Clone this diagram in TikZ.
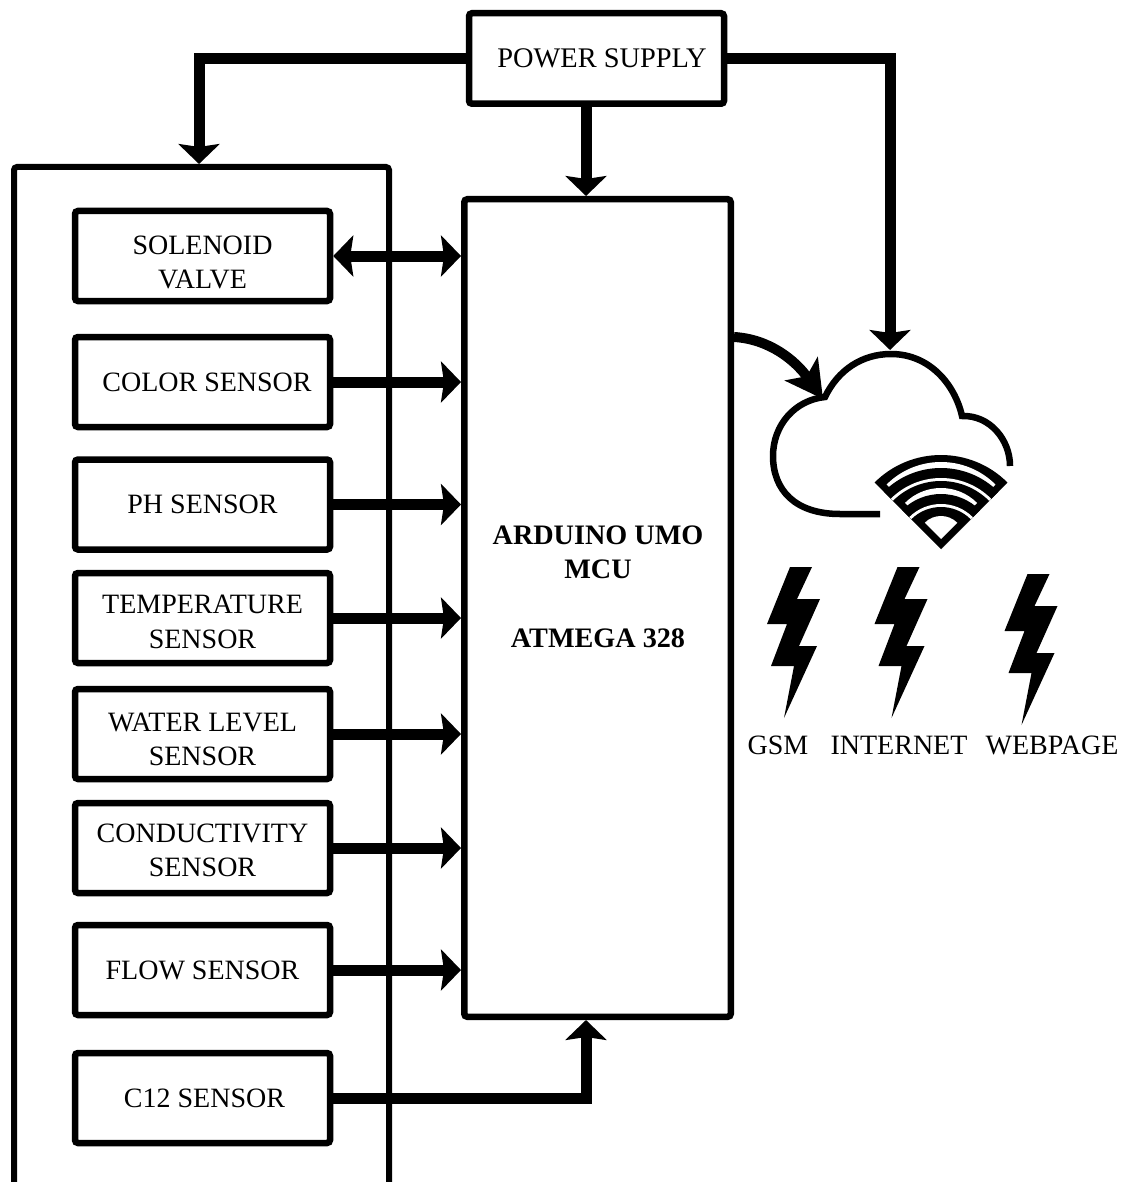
\documentclass[tikz,border=0pt]{standalone}
\usepackage{fontspec}
\setmainfont{Liberation Serif}
\usepackage{xcolor}
\usepackage{tikz}
\usetikzlibrary{arrows.meta, positioning}
\newcommand{\drop}[1]{\rule{0pt}{#1pt}}
\tikzstyle{block} = [rectangle, rounded corners=3pt, minimum width=255pt, minimum height=90pt, text centered, align=center, draw=black, line width=6.5pt, fill=white, font=\fontsize{28}{34.5}\selectfont, inner sep=0pt]
\tikzstyle{title} = [align=center, inner sep=0pt, font=\fontsize{28}{34.5}\selectfont]
\tikzstyle{arrow} = [line width=11pt,-{Stealth[length=20pt,width=41pt,inset=3pt]}]
\tikzstyle{twoway} = [line width=11pt,{Stealth[length=20pt,width=41pt,inset=3pt]}-{Stealth[length=20pt,width=41pt,inset=3pt]}]
\tikzstyle{outline} = [line width=6pt, rounded corners=3pt]
\tikzset{bolt/.pic={\fill[black] (0,0) -- (22,0) -- (7,32) -- (30,32) -- (9,79) -- (27,79) -- (-6,151) -- (4,99) -- (-19,99) -- (-3,57) -- (-23,57) -- cycle;}}

\begin{document}
\begin{tikzpicture}[x=1pt, y=-1pt]
    \useasboundingbox (0,0) rectangle (1124,1182);
    % Outer frame, open at the bottom
    \draw [outline] (14,1182) |- (389,167) -- (389,1182);
    \coordinate (frametop) at (199,164);

    % Define blocks
    \node (power) [block, minimum height=90.5pt, font=\fontsize{28.4}{34.5}\selectfont] at (596.5,58.5) {\hspace*{11pt}POWER SUPPLY};
    \node (mcu) [block, fill=none, minimum width=266.5pt, minimum height=817.5pt] at (597.5,608) {};
    \node (mcutext) [title, font=\fontsize{28.2}{34.5}\selectfont\bfseries] at (598,587) {ARDUINO UMO\\MCU\\[34.5pt]ATMEGA 328};
    \node (valve) [block] at (202.5,256) {\drop{31}SOLENOID\\VALVE};
    \node (color) [block, below=29.5pt of valve] {\hspace*{9pt}COLOR SENSOR};
    \node (ph) [block, below=26pt of color] {PH SENSOR};
    \node (temp) [block, below=17pt of ph] {\drop{26}TEMPERATURE\\SENSOR};
    \node (water) [block, below=19.5pt of temp] {\drop{29}WATER LEVEL\\SENSOR};
    \node (cond) [block, below=17.5pt of water] {\drop{23}CONDUCTIVITY\\SENSOR};
    \node (flow) [block, below=25.5pt of cond] {FLOW SENSOR};
    \node (clsensor) [block, below=31.5pt of flow] {\hspace*{4pt}C12 SENSOR};

    % Cloud and wireless mark
    \draw [line width=6.5pt] (880,514) -- (840,514) .. controls (795,514) and (773,490) .. (773,456) .. controls (773,425) and (795,400) .. (825,397) .. controls (838,370) and (862,354) .. (891,354) .. controls (930,354) and (955,385) .. (962,416) .. controls (990,415) and (1010,440) .. (1010,466);
    \coordinate (cloudtop) at (890,350);
    \coordinate (cloudnotch) at (823,399);
    \foreach \r/\c/\d in {94/black/0, 77/white/10, 81/black/0, 71/white/0, 68/black/0, 51/white/10, 55/black/0, 45/white/0, 42/black/0, 23/white/10} {
        \fill[\c] (941,549-\d) -- (941-\r*0.7071,549-\d-\r*0.7071) arc[start angle=225, end angle=315, radius=\r pt, y radius=-\r pt] -- cycle;
    }

    % Bolts and their names
    \pic at (790,567) {bolt};
    \pic at (897.5,567) {bolt};
    \pic at (1027.5,574) {bolt};
    \node (gsm) [title] at (778,745) {GSM};
    \node (internet) [title] at (899,745) {INTERNET};
    \node (webpage) [title] at (1052,745) {WEBPAGE};

    % Draw arrows
    \draw [arrow] (power.west) -| (frametop);
    \draw [arrow] (power.east) -| (cloudtop);
    \draw [arrow] ([xshift=-10.5pt]power.south) -- ([xshift=-11.5pt]mcu.north);
    \draw [twoway] (valve) -- (mcu.west |- valve);
    \foreach \s in {color, ph, temp, water, cond, flow}
        \draw [arrow] (\s) -- (mcu.west |- \s);
    \draw [arrow] (clsensor.east) -| ([xshift=-11.5pt]mcu.south);
    \draw [line width=10pt, -{Stealth[length=37pt,width=40pt,inset=9pt]}] ([yshift=271pt]mcu.east) .. controls +(35,2) and +(-28,-39) .. (cloudnotch);
\end{tikzpicture}
\end{document}
